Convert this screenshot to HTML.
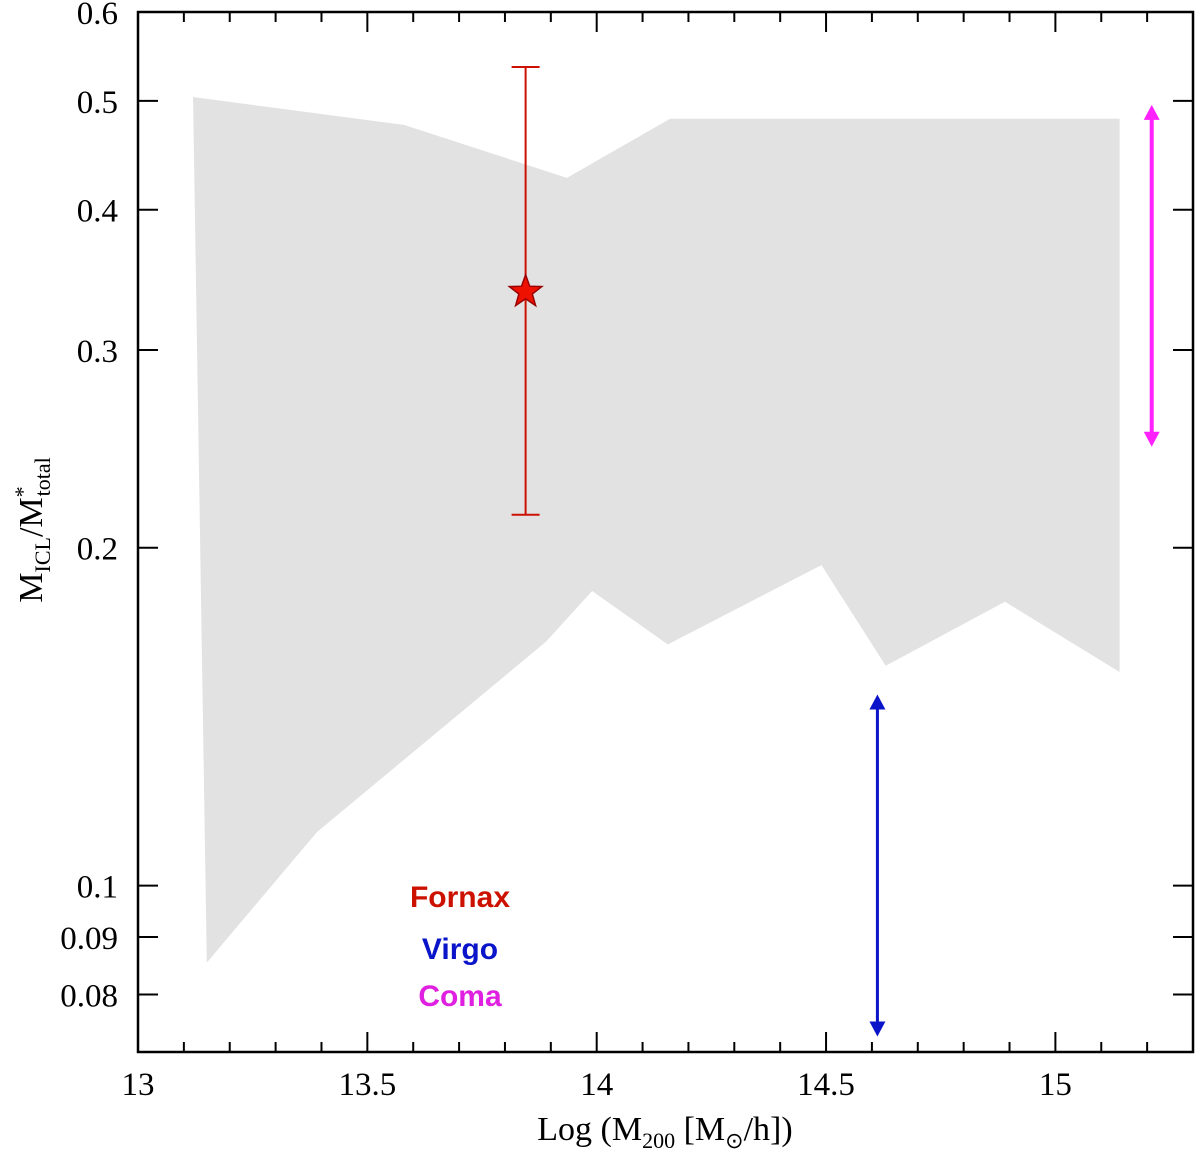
<!DOCTYPE html>
<html><head><meta charset="utf-8"><style>
html,body{margin:0;padding:0;background:#fff;}
svg{display:block;}
text{font-family:"Liberation Serif",serif;}
</style></head><body>
<svg id="chart" width="1200" height="1156" viewBox="0 0 1200 1156" xmlns="http://www.w3.org/2000/svg">
<g id="band"></g>
<g id="series"></g>
<g id="axes"></g>
<text x="665" y="1140" text-anchor="middle" font-size="34">Log (M<tspan font-size="22" dy="8">200</tspan><tspan dy="-8"> [M</tspan><tspan font-size="22" dy="8">⊙</tspan><tspan dy="-8">/h])</tspan></text>
<text transform="translate(42,530) rotate(-90)" text-anchor="middle" font-size="34">M<tspan font-size="22" dy="8">ICL</tspan><tspan dy="-8">/M</tspan><tspan font-size="22" dy="-12">*</tspan><tspan font-size="22" dx="-10" dy="20">total</tspan></text>
<g font-weight="bold" font-size="30">
<text x="460" y="907" text-anchor="middle" fill="#cc1100" style="font-family:'Liberation Sans',sans-serif">Fornax</text>
<text x="460" y="959" text-anchor="middle" fill="#0a14c8" style="font-family:'Liberation Sans',sans-serif">Virgo</text>
<text x="460" y="1006" text-anchor="middle" fill="#e020e0" style="font-family:'Liberation Sans',sans-serif">Coma</text>
</g>
</svg>
<script>
const bandX = [13.12, 13.58, 13.935, 14.16, 15.14, 15.14, 14.89, 14.63, 14.49, 14.155, 13.99, 13.89, 13.39, 13.15];
const bandY = [0.504, 0.476, 0.427, 0.482, 0.482, 0.155, 0.179, 0.157, 0.193, 0.164, 0.183, 0.165, 0.1116, 0.0854];
const fornax = {x: 13.845, y: 0.338, lo: 0.214, hi: 0.536};
const virgo = {x: 14.612, lo: 0.0734, hi: 0.148};
const coma = {x: 15.21, lo: 0.246, hi: 0.496};
const xTicks = [13, 13.5, 14, 14.5, 15];
const xTickLabels = ["13", "13.5", "14", "14.5", "15"];
const yTicks = [0.08, 0.09, 0.1, 0.2, 0.3, 0.4, 0.5, 0.6];
const yTickLabels = ["0.08", "0.09", "0.1", "0.2", "0.3", "0.4", "0.5", "0.6"];

const L = 138, R = 1193, T = 12, B = 1052;
const X0 = 13, X1 = 15.3, Ytop = 0.6, Ybot = 0.0711;
const sx = v => L + (v - X0) / (X1 - X0) * (R - L);
const sy = v => T + (Math.log10(Ytop) - Math.log10(v)) / (Math.log10(Ytop) - Math.log10(Ybot)) * (B - T);
const NS = "http://www.w3.org/2000/svg";
function mk(tag, attrs, parent) {
  const e = document.createElementNS(NS, tag);
  for (const k in attrs) e.setAttribute(k, attrs[k]);
  parent.appendChild(e);
  return e;
}
const band = document.getElementById('band');
const poly = mk('polygon', {points: bandX.map((x, i) => sx(x) + ',' + sy(bandY[i])).join(' '), fill: '#e2e2e2'}, band);



const ser = document.getElementById('series');
const fg = mk('g', {stroke: '#cc1100', 'stroke-width': 2, fill: 'none'}, ser);


const fx = sx(fornax.x);
mk('line', {x1: fx, x2: fx, y1: sy(fornax.hi), y2: sy(fornax.lo)}, fg);
mk('line', {x1: fx - 14, x2: fx + 14, y1: sy(fornax.hi), y2: sy(fornax.hi)}, fg);
mk('line', {x1: fx - 14, x2: fx + 14, y1: sy(fornax.lo), y2: sy(fornax.lo)}, fg);
const cy = sy(fornax.y);
let pts = [];
for (let i = 0; i < 10; i++) {
  const r = i % 2 ? 7 : 17, a = -Math.PI / 2 + i * Math.PI / 5;
  pts.push((fx + r * Math.cos(a)).toFixed(1) + ',' + (cy + r * Math.sin(a)).toFixed(1));
}
const star = mk('polygon', {points: pts.join(' '), fill: '#ee1100', stroke: '#990000', 'stroke-width': 1.5}, ser);



function arrow(obj, color, w, name) {
  const g = mk('g', {}, ser);
  
  
  const x = sx(obj.x), y1 = sy(obj.hi), y2 = sy(obj.lo);
  mk('line', {x1: x, x2: x, y1: y1 + 10, y2: y2 - 10, stroke: color, 'stroke-width': w}, g);
  mk('polygon', {points: `${x},${y1} ${x - 8},${y1 + 15} ${x + 8},${y1 + 15}`, fill: color}, g);
  mk('polygon', {points: `${x},${y2} ${x - 8},${y2 - 15} ${x + 8},${y2 - 15}`, fill: color}, g);
}
arrow(virgo, '#0a14c8', 3, 'virgo-range-arrow');
arrow(coma, '#ff22ff', 4, 'coma-range-arrow');

const ax = document.getElementById('axes');
const frame = mk('rect', {x: L, y: T, width: R - L, height: B - T, fill: 'none', stroke: '#000', 'stroke-width': 2.5}, ax);


for (let v = 13; v <= 15.3001; v += 0.1) {
  const major = Math.abs(v * 2 - Math.round(v * 2)) < 1e-6;
  const len = major ? 20 : 10, x = sx(v);
  mk('line', {x1: x, x2: x, y1: B, y2: B - len, stroke: '#000', 'stroke-width': 2}, ax);
  mk('line', {x1: x, x2: x, y1: T, y2: T + len, stroke: '#000', 'stroke-width': 2}, ax);
}
xTicks.forEach((v, i) => {
  const t = mk('text', {x: sx(v), y: 1095, 'text-anchor': 'middle', 'font-size': 33}, ax);
  t.textContent = xTickLabels[i];
  
  
});
yTicks.forEach((v, i) => {
  const y = sy(v);
  mk('line', {x1: L, x2: L + 20, y1: y, y2: y, stroke: '#000', 'stroke-width': 2}, ax);
  mk('line', {x1: R, x2: R - 20, y1: y, y2: y, stroke: '#000', 'stroke-width': 2}, ax);
  const t = mk('text', {x: 118, y: y + 12, 'text-anchor': 'end', 'font-size': 33}, ax);
  t.textContent = yTickLabels[i];
  
  
});
</script>
</body></html>
